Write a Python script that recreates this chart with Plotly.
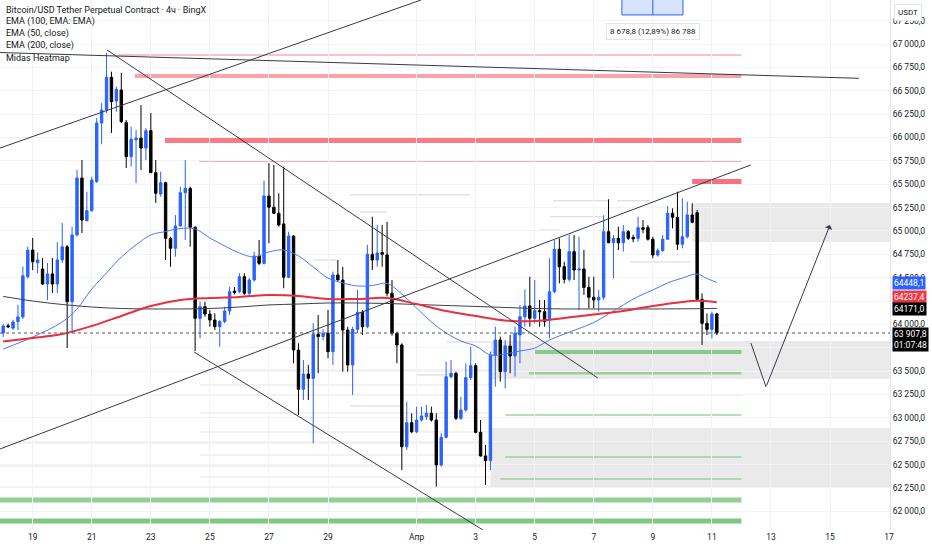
import pandas as pd
import plotly.graph_objects as go

# BTC/USDT perp, 4h candles
candle_start = "2024-03-18 00:00"

opens = [63908, 63985, 63960, 64030, 64080, 64510, 64795, 64660, 64593, 64432,
         64540, 64432, 64690, 64830, 64243, 64957, 65566, 65110, 65217, 65530,
         66155, 66294, 66644, 66390, 66508, 66159, 65795, 65975, 65993, 65887,
         66073, 65623, 65395, 65516, 64921, 64814, 65053, 65409, 65456, 65039,
         64065, 64189, 64111, 64047, 63975, 64030, 64143, 64357, 64350, 64510,
         64333, 64475, 64732, 64653, 65374, 65253, 65189, 65075, 64504, 64946,
         63726, 63306, 63469, 63423, 63894, 63869, 63905, 63708, 64529, 64475,
         63940, 63566, 63947, 64129, 63975, 64750, 64689, 64768, 64743, 64333,
         63905, 63780, 62691, 62948, 62852, 62977, 63012, 63049, 62977, 62496,
         62792, 63440, 63477, 62995, 63084, 63430, 63558, 62845, 62592, 62542,
         63672, 63833, 63494, 63769, 63662, 63887, 64082, 64197, 64065, 64147,
         64136, 64047, 64350, 64804, 64617, 64482, 64778, 64582, 64593, 64396,
         64290, 64261, 64290, 64992, 64874, 64921, 64874, 64992, 64930, 64921,
         65035, 65035, 64911, 64743, 64789, 64911, 65189, 65146, 64857, 64938,
         65171, 65195, 64268, 64011, 63947, 64111]
highs = [64004, 64010, 64050, 64210, 64620, 64830, 64925, 64770, 64710, 64657,
         64710, 64880, 65085, 64850, 65045, 65652, 65760, 65420, 65580, 66208,
         66369, 66904, 66704, 66544, 66690, 66187, 66115, 66080, 66347, 66101,
         66262, 65759, 65634, 65527, 64938, 65170, 65473, 65759, 65473, 65050,
         64243, 64243, 64154, 64118, 64047, 64189, 64403, 64400, 64547, 64547,
         64496, 64778, 64903, 65537, 65724, 65705, 65403, 65687, 64992, 64957,
         63798, 63619, 63566, 64012, 64100, 63950, 64154, 64564, 64689, 64617,
         63975, 63975, 64368, 64154, 64850, 65152, 65064, 65064, 65096, 64475,
         63922, 63798, 63173, 63049, 63120, 63120, 63138, 63120, 63049, 62835,
         63601, 63619, 63494, 63226, 63584, 63761, 63584, 62977, 62710, 63708,
         63975, 63869, 63833, 63887, 63975, 64207, 64375, 64510, 64475, 64261,
         64261, 64707, 64903, 64921, 64671, 64957, 64957, 64938, 64796, 64510,
         64510, 64368, 65170, 65339, 64957, 65046, 65064, 65010, 64960, 65152,
         65117, 65064, 64938, 64814, 64957, 65267, 65242, 65420, 65349, 65313,
         65295, 65224, 64332, 64118, 64136, 64125]
lows = [63865, 63960, 63940, 63940, 64060, 64490, 64580, 64550, 64420, 64260,
        64336, 64336, 64655, 63747, 63908, 64940, 64978, 65100, 65206, 65513,
        65928, 66262, 66048, 66276, 66155, 65673, 65688, 65513, 65652, 65759,
        65620, 65300, 65366, 64689, 64617, 64724, 65046, 64903, 64831, 63715,
        63851, 64082, 63975, 63940, 63761, 64012, 64100, 64320, 64333, 64315,
        64296, 64457, 64635, 64640, 64868, 65180, 65046, 64386, 64493, 63584,
        63031, 63191, 63191, 62728, 63477, 63830, 63637, 63566, 64470, 63494,
        63494, 63245, 63905, 63887, 63958, 64582, 64617, 64617, 64300, 63880,
        63584, 62442, 62656, 62835, 62835, 62960, 62977, 62960, 62264, 62478,
        62781, 63423, 62977, 62977, 63066, 63405, 62835, 62584, 62282, 62442,
        63334, 63387, 63316, 63477, 63440, 63584, 63975, 63975, 64012, 63975,
        63975, 63851, 64333, 64439, 64439, 64457, 64475, 64154, 64315, 64172,
        64172, 64136, 64261, 64868, 64493, 64796, 64778, 64903, 64880, 64885,
        64975, 64896, 64707, 64725, 64778, 64903, 65028, 64796, 64814, 64921,
        65082, 64261, 63780, 63887, 63851, 63887]
closes = [63983, 63975, 64025, 64080, 64520, 64795, 64670, 64690, 64432, 64540,
          64432, 64690, 64830, 64243, 64957, 65566, 65117, 65217, 65545, 66155,
          66294, 66644, 66383, 66516, 66169, 65795, 65981, 65993, 65887, 66073,
          65623, 65403, 65516, 64921, 64814, 65053, 65409, 65456, 65039, 64065,
          64189, 64111, 64047, 63975, 64030, 64143, 64350, 64340, 64510, 64333,
          64475, 64732, 64653, 65374, 65253, 65189, 65064, 64504, 64946, 63726,
          63306, 63469, 63423, 63894, 63869, 63905, 63708, 64529, 64475, 63940,
          63566, 63947, 64129, 63975, 64750, 64689, 64764, 64750, 64333, 63905,
          63780, 62691, 62948, 62852, 62977, 63020, 63049, 62977, 62496, 62792,
          63440, 63477, 62995, 63084, 63430, 63558, 62845, 62592, 62542, 63672,
          63833, 63494, 63769, 63662, 63905, 64082, 64197, 64065, 64147, 64136,
          64030, 64350, 64804, 64617, 64482, 64778, 64582, 64593, 64396, 64290,
          64261, 64290, 64992, 64874, 64921, 64874, 64992, 64921, 64915, 65035,
          65018, 64911, 64743, 64789, 64911, 65189, 65146, 64857, 64938, 65171,
          65093, 64268, 64011, 63947, 64111, 63907.8]

# moving averages, sampled at candle indices
ema50_idx = [0, 6, 12, 15, 18, 21, 24, 27, 30, 33, 36, 39, 42, 45, 48, 51, 54, 57, 60, 63,
             66, 69, 72, 75, 78, 81, 84, 87, 90, 93, 96, 99, 102, 105, 108, 111, 114, 117,
             120, 123, 126, 129, 132, 135, 138, 141, 143, 145]
ema50 = [63737, 63865, 64026, 64165, 64379, 64550, 64721, 64850, 64957, 64994,
         65026, 65021, 64925, 64839, 64764, 64721, 64775, 64796, 64732, 64614,
         64496, 64443, 64411, 64416, 64438, 64325, 64175, 64026, 63908, 63822,
         63769, 63673, 63683, 63715, 63747, 63833, 63897, 63956, 64020, 64111,
         64208, 64298, 64368, 64443, 64496, 64539, 64491, 64448.1]
ema_idx = [0, 6, 12, 18, 24, 30, 36, 42, 48, 54, 60, 66, 72, 78, 84, 90, 96, 102, 108,
           114, 120, 126, 132, 138, 141, 145]
ema200 = [63816, 63855, 63897, 63983, 64090, 64197, 64261, 64282, 64293, 64315,
          64304, 64272, 64272, 64282, 64218, 64143, 64090, 64042, 64036, 64068,
          64106, 64143, 64197, 64240, 64252, 64237.4]
ema100 = [64299, 64250, 64213, 64186, 64170, 64165, 64165, 64170, 64186, 64208,
          64218, 64229, 64229, 64224, 64213, 64202, 64192, 64181, 64170, 64165,
          64165, 64165, 64165, 64167, 64168, 64171.0]

# heatmap levels (all end at the same time)
level_end = "2024-04-12 00:00"
red_levels = [66883, 66658, 65973, 65748]
red_starts = ["2024-03-21 21:20", "2024-03-22 11:00", "2024-03-23 11:30", "2024-03-24 15:10"]
green_levels = [63705, 63480, 63030, 62581, 62346, 62121, 61896]
green_starts = ["2024-04-05 00:00", "2024-04-04 19:20", "2024-04-04 00:00", "2024-04-04 00:00",
                "2024-04-03 20:00", "2024-03-17 00:00", "2024-03-17 00:00"]
red_zone = ("2024-04-10 08:00", 65492, 65556)
gray_zones = [("2024-04-10 08:00", 64882, 65299),
              ("2024-04-03 12:00", 63416, 63822),
              ("2024-04-03 12:00", 62260, 62891)]
faint_levels = [63512, 63352, 63245, 63052, 62849, 62731, 62603, 62485, 62367, 62260]
faint_starts = ["2024-03-24 16:00", "2024-03-24 16:00", "2024-03-17 00:00", "2024-03-24 16:00",
                "2024-03-24 16:00", "2024-03-17 00:00", "2024-03-24 16:00", "2024-03-17 00:00",
                "2024-03-24 16:00", "2024-03-17 00:00"]
faint_ends = ["2024-04-03 11:45"] * 2 + [level_end] + ["2024-04-03 11:45"] * 7
short_levels = [65203, 65323, 65323, 65152, 64689, 63459, 64668, 65010, 65385, 63127, 63812]
short_x0 = ["2024-03-30 02:00", "2024-04-05 15:00", "2024-04-07 19:00", "2024-04-05 12:30",
            "2024-03-28 11:45", "2024-04-01 00:15", "2024-04-08 05:30", "2024-04-05 04:20",
            "2024-03-29 17:50", "2024-03-29 17:50", "2024-04-02 00:45"]
short_x1 = ["2024-03-31 00:00", "2024-04-07 11:30", "2024-04-08 21:50", "2024-04-07 07:30",
            "2024-03-29 07:10", "2024-04-02 00:45", "2024-04-10 06:20", "2024-04-05 20:40",
            "2024-04-02 19:30", "2024-03-31 10:30", "2024-04-03 11:45"]

# drawings
trend_lines = [
    ("2024-03-17 21:25", 65887, "2024-04-01 03:36", 67471),
    ("2024-03-21 12:23", 66936, "2024-04-07 03:22", 63426),
    ("2024-03-24 11:05", 63705, "2024-04-03 06:00", 61800),
    ("2024-03-17 21:25", 62667, "2024-04-12 07:40", 65706),
    ("2024-03-17 21:25", 66909, "2024-04-15 23:30", 66633),
]
path_t = ["2024-04-12 07:40", "2024-04-12 20:00", "2024-04-15 00:00"]
path_p = [63801, 63330, 65063]
measure_t = ("2024-04-07 22:50", "2024-04-09 00:00", "2024-04-10 00:30")
measure_low = 67311
measure_text = "8 678,8 (12,89%) 86 788"

legend_lines = ["Bitcoin/USD Tether Perpetual Contract · 4ч · BingX", "EMA (100, EMA: EMA)",
                "EMA (50, close)", "EMA (200, close)", "Midas Heatmap"]

tick_dates = ["2024-03-19", "2024-03-21", "2024-03-23", "2024-03-25", "2024-03-27",
              "2024-03-29", "2024-04-01", "2024-04-03", "2024-04-05", "2024-04-07",
              "2024-04-09", "2024-04-11", "2024-04-13", "2024-04-15", "2024-04-17"]
tick_text = ["19", "21", "23", "25", "27", "29", "Апр", "3", "5", "7", "9", "11", "13", "15", "17"]
price_ticks = list(range(62000, 67500, 250))
hidden_ticks = [63750, 64250]  # sit under the value labels on the scale

x_range = ["2024-03-17 21:25", "2024-04-17 00:45"]
y_range = [61800, 67471]

FONT = "Roboto"
TEXT = "#131722"
BLUE = "#2962ff"


def fmt_price(v):
    return f"{v:,.1f}".replace(",", " ").replace(".", ",")


times = pd.date_range(candle_start, periods=len(opens), freq="4h")

fig = go.Figure()

fig.add_trace(go.Candlestick(
    x=times, open=opens, high=highs, low=lows, close=closes,
    increasing=dict(line=dict(color=BLUE, width=1), fillcolor=BLUE),
    decreasing=dict(line=dict(color="#000000", width=1), fillcolor="#000000"),
    whiskerwidth=0, showlegend=False, hoverinfo="skip",
))

fig.add_trace(go.Scatter(x=times[ema_idx], y=ema100, mode="lines", line=dict(color="#3c3f47", width=1, shape="spline"),
                         showlegend=False, hoverinfo="skip"))
fig.add_trace(go.Scatter(x=times[ema50_idx], y=ema50, mode="lines", line=dict(color="#4f77f0", width=1, shape="spline"),
                         showlegend=False, hoverinfo="skip"))
fig.add_trace(go.Scatter(x=times[ema_idx], y=ema200, mode="lines", line=dict(color="#e8303f", width=2, shape="spline"),
                         showlegend=False, hoverinfo="skip"))

shapes = []

# heatmap: gray zones, faint lines, red/green levels
for x0, p0, p1 in gray_zones:
    shapes.append(dict(type="rect", x0=x0, x1="2024-04-18", y0=p0, y1=p1, layer="below",
                       fillcolor="rgba(200,200,200,0.38)", line=dict(width=0)))
for p, x0, x1 in zip(faint_levels, faint_starts, faint_ends):
    shapes.append(dict(type="line", x0=x0, x1=x1, y0=p, y1=p, layer="below",
                       line=dict(color="rgba(0,0,0,0.05)", width=2)))
for p, x0, x1 in zip(short_levels, short_x0, short_x1):
    shapes.append(dict(type="line", x0=x0, x1=x1, y0=p, y1=p, layer="below",
                       line=dict(color="rgba(0,0,0,0.17)", width=1)))

red_styles = [("rgba(242,54,69,0.3)", 2), ("rgba(242,54,69,0.45)", 4),
              ("rgba(242,54,69,0.65)", 6), ("rgba(242,54,69,0.4)", 2)]
for p, x0, (col, w) in zip(red_levels, red_starts, red_styles):
    shapes.append(dict(type="line", x0=x0, x1=level_end, y0=p, y1=p, layer="below",
                       line=dict(color=col, width=w)))
shapes.append(dict(type="rect", x0=red_zone[0], x1=level_end, y0=red_zone[1], y1=red_zone[2],
                   layer="below", fillcolor="rgba(242,54,69,0.7)", line=dict(width=0)))

green_styles = [("rgba(76,175,80,0.6)", 4), ("rgba(76,175,80,0.5)", 3), ("rgba(76,175,80,0.4)", 2),
                ("rgba(76,175,80,0.35)", 2), ("rgba(76,175,80,0.35)", 2),
                ("rgba(76,175,80,0.6)", 5), ("rgba(76,175,80,0.7)", 5)]
for p, x0, (col, w) in zip(green_levels, green_starts, green_styles):
    shapes.append(dict(type="line", x0=x0, x1=level_end, y0=p, y1=p, layer="below",
                       line=dict(color=col, width=w)))

# drawings
for x0, p0, x1, p1 in trend_lines:
    shapes.append(dict(type="line", x0=x0, x1=x1, y0=p0, y1=p1,
                       line=dict(color="#363a45", width=1)))
shapes.append(dict(type="line", x0=path_t[0], x1=path_t[1], y0=path_p[0], y1=path_p[1],
                   line=dict(color="#363a45", width=1)))

# measure tool at the top
shapes.append(dict(type="rect", x0=measure_t[0], x1=measure_t[2], y0=measure_low, y1=69000,
                   fillcolor="rgba(41,98,255,0.18)", line=dict(color=BLUE, width=1)))
shapes.append(dict(type="line", x0=measure_t[1], x1=measure_t[1], y0=measure_low, y1=69000,
                   line=dict(color=BLUE, width=1)))

# last price dotted line
shapes.append(dict(type="line", xref="paper", x0=0, x1=1, y0=closes[-1], y1=closes[-1],
                   line=dict(color="#555555", width=1, dash="dot")))

annotations = []
for k, line in enumerate(legend_lines):
    annotations.append(dict(xref="paper", yref="paper", x=0.004, y=1 - (10 + 12 * k) / 530,
                            text=line, showarrow=False, xanchor="left", yanchor="middle",
                            font=dict(family=FONT, size=9, color=TEXT)))

annotations.append(dict(x=path_t[2], y=path_p[2], ax=path_t[1], ay=path_p[1],
                        xref="x", yref="y", axref="x", ayref="y", text="",
                        showarrow=True, arrowhead=1, arrowsize=1.3, arrowwidth=1,
                        arrowcolor="#363a45"))

annotations.append(dict(x=measure_t[1], y=67139, xref="x", yref="y", text=measure_text,
                        showarrow=False, bgcolor="white", bordercolor="#e6e6e6", borderwidth=1,
                        borderpad=3, font=dict(family=FONT, size=8, color=TEXT)))

axis_labels = [(64448.1, 64448.1, BLUE), (64290, ema200[-1], "#f23645"),
               (64160, ema100[-1], "#000000")]
for ypos, val, col in axis_labels:
    annotations.append(dict(xref="paper", yref="y", x=1, y=ypos, xanchor="left", xshift=2,
                            text=fmt_price(val).replace(" ", ""), showarrow=False, bgcolor=col,
                            borderpad=1, font=dict(family=FONT, size=8.5, color="white")))
annotations.append(dict(xref="paper", yref="y", x=1, y=closes[-1], xanchor="left", yanchor="top",
                        xshift=2, yshift=6, text=fmt_price(closes[-1]) + "<br>01:07:48",
                        showarrow=False, bgcolor="#000000", borderpad=1, align="left",
                        font=dict(family=FONT, size=8.5, color="white")))
annotations.append(dict(xref="paper", yref="paper", x=1, y=1, xanchor="left", yanchor="top",
                        xshift=4, yshift=-4, text="USDT", showarrow=False, bgcolor="white",
                        bordercolor="#e0e3eb", borderwidth=1, borderpad=3,
                        font=dict(family=FONT, size=8, color=TEXT)))

fig.update_layout(
    width=932, height=550, autosize=False,
    margin=dict(l=0, r=42, t=0, b=20),
    paper_bgcolor="white", plot_bgcolor="white",
    shapes=shapes, annotations=annotations,
    font=dict(family=FONT, color=TEXT),
    xaxis=dict(type="date", range=x_range, tickvals=tick_dates, ticktext=tick_text,
               showgrid=True, gridcolor="#f0f3fa", zeroline=False, showline=False,
               rangeslider=dict(visible=False), tickfont=dict(size=8.5, color=TEXT),
               fixedrange=True),
    yaxis=dict(side="right", range=y_range, tickvals=price_ticks,
               ticktext=["" if v in hidden_ticks else fmt_price(v) for v in price_ticks],
               showgrid=True, gridcolor="#f0f3fa", zeroline=False, showline=True,
               linecolor="#e0e3eb", tickfont=dict(size=8.5, color=TEXT), fixedrange=True),
)

fig.write_html("out.html", config={"displayModeBar": False},
               post_script="document.body.style.margin='0';")
